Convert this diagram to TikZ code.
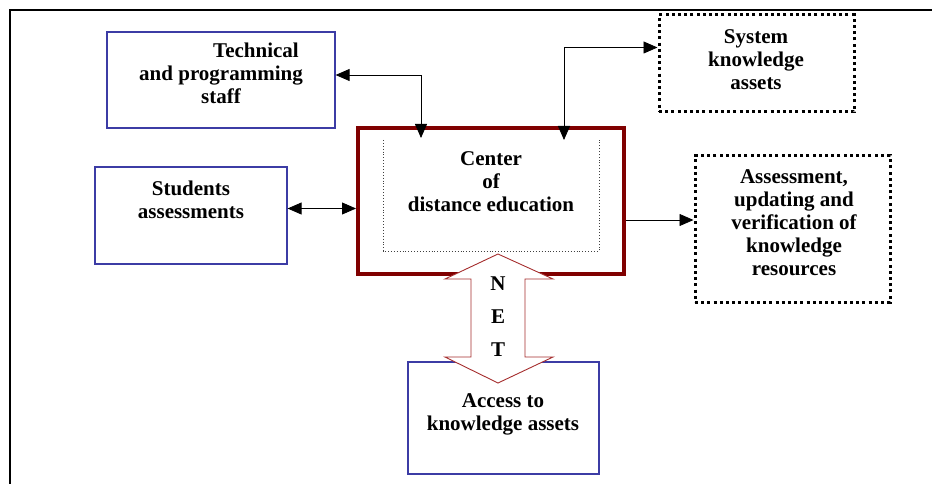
\documentclass[tikz,border=0pt]{standalone}
\usepackage{fontspec}
\setmainfont{Liberation Serif}
\usetikzlibrary{arrows.meta}
\definecolor{boxblue}{RGB}{60,60,165}
\definecolor{cdered}{RGB}{128,0,0}
\definecolor{netred}{RGB}{165,45,45}
\begin{document}
\begin{tikzpicture}[x=1pt, y=-1pt,
    bluebox/.style={draw=boxblue, line width=1.2pt},
    dotbox/.style={draw=black, line width=3pt, dash pattern=on 3pt off 3.2pt},
    lbl/.style={font=\fontsize{21}{23}\selectfont\bfseries, align=center, inner sep=0pt},
    biarrow/.style={{Triangle[length=14pt,width=12pt]}-{Triangle[length=14pt,width=12pt]}, line width=0.8pt},
    onearrow/.style={-{Triangle[length=14pt,width=12pt]}, line width=0.8pt}]
  \useasboundingbox (0,0) rectangle (932,484);
  % frame
  \draw[line width=2pt] (10,484) -- (10,10) -- (932,10);
  % boxes
  \node[bluebox, minimum width=228pt, minimum height=96pt] (tech) at (221,80) {};
  \node[bluebox, minimum width=192pt, minimum height=97pt] (stud) at (191,215.5) {};
  \node[draw=cdered, line width=4pt, minimum width=266pt, minimum height=146pt] (cde) at (491,201) {};
  \node[dotbox, minimum width=195pt, minimum height=97pt] (sys) at (756.5,63.5) {};
  \node[dotbox, minimum width=195pt, minimum height=146pt] (ass) at (792.5,229) {};
  \node[bluebox, minimum width=191pt, minimum height=112pt] (acc) at (503.5,418) {};
  \draw[black!75, dotted, line width=0.9pt] (383,140) -- (383,251) -- (599,251) -- (599,140);
  % texts
  \node[lbl] (techtxt) at (221,73) {\hspace*{70pt}Technical\\and programming\\staff};
  \node[lbl] (studtxt) at (191,199.5) {Students\\assessments};
  \node[lbl] (cdetxt) at (491,181.5) {Center\\of\\distance education};
  \node[lbl] (systxt) at (756,60) {System\\knowledge\\assets};
  \node[lbl] (asstxt) at (794,223) {Assessment,\\updating and\\verification of\\knowledge\\resources};
  \node[lbl] (acctxt) at (503,414.5) {Access to\\knowledge assets};
  % connectors
  \coordinate (tc) at (421,138);
  \coordinate (sc) at (564,140);
  \draw[biarrow] ([yshift=5pt]tech.east) -| (tc);
  \draw[biarrow] ([yshift=7pt]stud.east) -- ([yshift=7pt]stud.east -| cde.west);
  \draw[biarrow] (sc) |- ([yshift=16pt]sys.west);
  \draw[onearrow] ([yshift=-19pt]cde.east) -- ([yshift=-19pt]cde.east -| ass.west);
  % net arrow
  \draw[netred, fill=white, line width=0.9pt] (498,254) -- (553,279) -- (525,279) -- (525,357) -- (553,357)
    -- (498,383) -- (445,357) -- (471,357) -- (471,279) -- (445,279) -- cycle;
  \foreach \l [count=\i] in {N,E,T} {
    \node[lbl] (net\i) at (498,251+\i*33) {\l};
  }
\end{tikzpicture}
\end{document}
